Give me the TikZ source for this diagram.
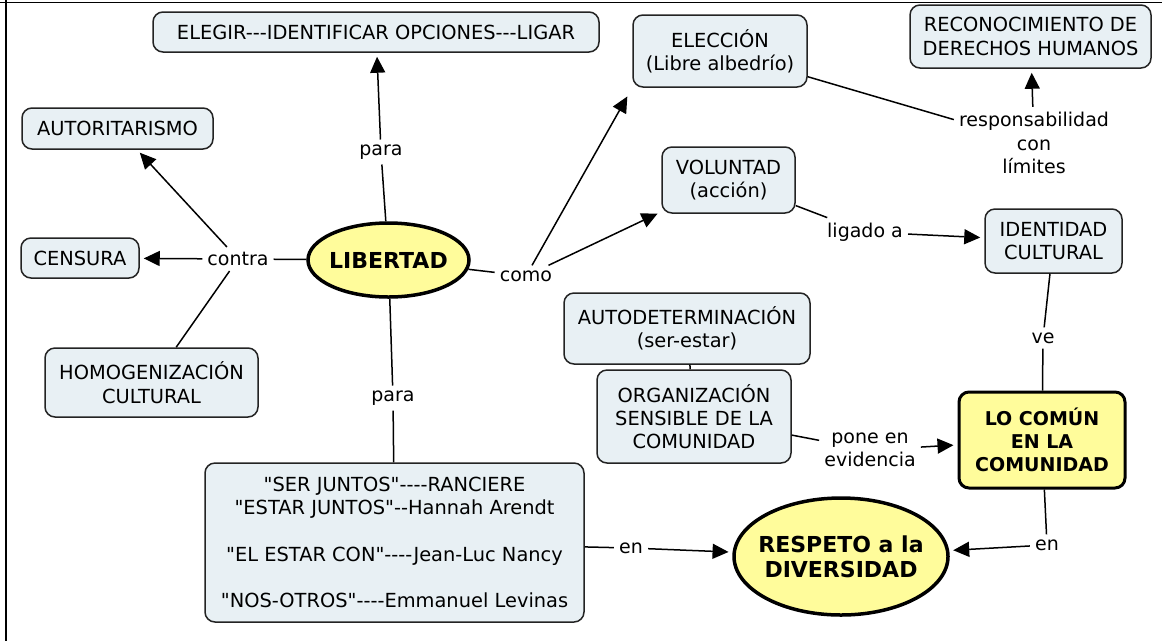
\documentclass[tikz,border=0pt]{standalone}
\usepackage{fontspec}
\setmainfont{DejaVu Sans}[Ligatures=TeXOff]
\usetikzlibrary{arrows.meta,shapes.geometric}
\definecolor{boxfill}{RGB}{232,240,244}
\definecolor{boxline}{RGB}{35,35,35}
\definecolor{keyfill}{RGB}{255,252,155}

\begin{document}
\begin{tikzpicture}[x=1pt,y=-1pt,
  concept/.style={draw=boxline, line width=1.5pt, fill=boxfill, rounded corners=10pt,
    align=center, inner sep=0pt, font=\fontsize{19.4}{23.3}\selectfont},
  keybox/.style={draw=black, line width=3pt, fill=keyfill, rounded corners=10pt,
    align=center, inner sep=0pt, font=\bfseries\fontsize{19}{23.3}\selectfont},
  keyoval/.style={draw=black, line width=3.5pt, fill=keyfill, ellipse,
    align=center, inner xsep=-10pt, inner ysep=0pt, font=\bfseries\fontsize{22}{25}\selectfont},
  boxsize/.style 2 args={minimum width=#1, minimum height=#2},
  linkword/.style={align=center, inner sep=5pt, font=\fontsize{19}{23.5}\selectfont},
  link/.style={line width=1.5pt},
  linkto/.style={line width=1.5pt, -{Triangle[length=16pt,width=15pt]}, shorten >=4pt}]

  \useasboundingbox (0,0) rectangle (1166,641);
  % frame
  \draw[line width=1.3pt] (6,0) -- (6,641);
  \draw[line width=1pt] (0,2) -- (1162,2);

  % concepts
  \node[keyoval, boxsize={161pt}{74pt}] (libertad) at (388.5,260) {LIBERTAD};
  \node[concept, boxsize={446pt}{40pt}] (elegir) at (376,32) {ELEGIR---IDENTIFICAR OPCIONES---LIGAR};
  \node[concept, boxsize={191pt}{41pt}] (autorit) at (117.5,128.5) {AUTORITARISMO};
  \node[concept, boxsize={118pt}{40pt}] (censura) at (80,258) {CENSURA};
  \node[concept, boxsize={213pt}{69pt}] (homog) at (151.5,382.5) {HOMOGENIZACIÓN\\CULTURAL};
  \node[concept, boxsize={174pt}{72pt}] (eleccion) at (720,51) {ELECCIÓN\\(Libre albedrío)};
  \node[concept, boxsize={241pt}{63pt}] (derechos) at (1030.5,36.5) {RECONOCIMIENTO DE\\DERECHOS HUMANOS};
  \node[concept, boxsize={133pt}{66pt}] (voluntad) at (728.5,180) {VOLUNTAD\\(acción)};
  \node[concept, boxsize={137pt}{64pt}] (identidad) at (1053.5,241) {IDENTIDAD\\CULTURAL};
  \node[concept, boxsize={246pt}{71pt}] (autodet) at (687,328.5) {AUTODETERMINACIÓN\\(ser-estar)};
  \node[concept, boxsize={194pt}{93pt}] (organiz) at (694,416.5) {ORGANIZACIÓN\\SENSIBLE DE LA\\COMUNIDAD};
  \node[keybox, boxsize={166pt}{96pt}] (comun) at (1042,440) {LO COMÚN\\EN LA\\COMUNIDAD};
  \node[keyoval, boxsize={214pt}{117pt}] (respeto) at (841,556.5) {RESPETO a la\\DIVERSIDAD};
  \node[concept, boxsize={379pt}{159pt}] (juntos) at (394.5,542.5)
    {"SER JUNTOS"----RANCIERE\\"ESTAR JUNTOS"--Hannah Arendt\\[23.3pt]
     "EL ESTAR CON"----Jean-Luc Nancy\\[23.3pt]"NOS-OTROS"----Emmanuel Levinas};

  % linking words
  \node[linkword] (contra) at (238,259) {contra};
  \node[linkword] (paraup) at (381,152) {para};
  \node[linkword] (paradown) at (393,398) {para};
  \node[linkword] (como) at (526,276) {como};
  \node[linkword] (respons) at (1034,143) {responsabilidad\\con\\límites};
  \node[linkword] (ligado) at (865,232) {ligado a};
  \node[linkword] (ve) at (1043,338) {ve};
  \node[linkword] (pone) at (870,450) {pone en\\evidencia};
  \node[linkword] (enright) at (1047,545) {en};
  \node[linkword] (enleft) at (631,548) {en};

  \path[link]
    (libertad) edge (contra)
    (contra) edge (homog)
    (libertad) edge (paraup)
    (libertad) edge (paradown)
    (paradown) edge (juntos)
    (libertad) edge (como)
    (eleccion) edge (respons)
    (voluntad) edge (ligado)
    (identidad) edge (ve)
    (ve) edge (comun)
    (autodet) edge (organiz)
    (organiz) edge (pone)
    (comun) edge (enright)
    (juntos) edge (enleft);

  \path[linkto]
    (contra) edge (censura)
    (contra) edge (autorit)
    (paraup) edge (elegir)
    (como) edge[shorten >=10pt] (eleccion.south west)
    (como) edge (voluntad)
    (respons) edge (derechos)
    (ligado) edge (identidad)
    (pone) edge (comun)
    (enright) edge (respeto)
    (enleft) edge (respeto);
\end{tikzpicture}
\end{document}
